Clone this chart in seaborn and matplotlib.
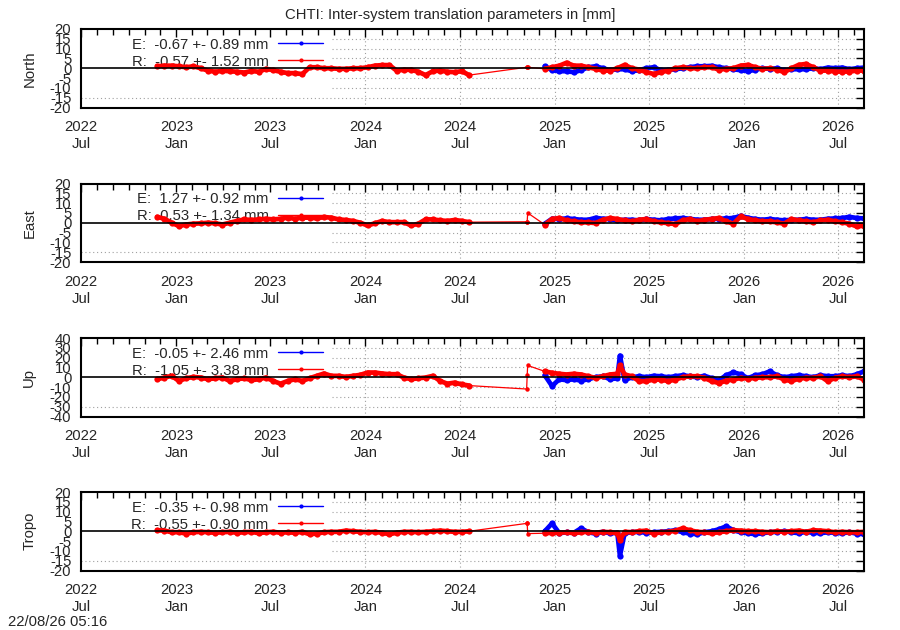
import numpy as np
import pandas as pd
import matplotlib
matplotlib.use("Agg")
import matplotlib.pyplot as plt
import matplotlib.dates as mdates
from matplotlib.lines import Line2D
import seaborn as sns

# ---------------- data ----------------
part1_dates = pd.date_range("2022-11-25", periods=44, freq="14D")
part2_dates = pd.date_range("2024-12-12", periods=45, freq="14D")
lone_dates = pd.to_datetime(["2024-11-07", "2024-11-08", "2024-11-09"])
spike_date = pd.to_datetime(["2025-05-06"])

panel_names = ["North", "East", "Up", "Tropo"]
panel_limits = [20, 20, 40, 20]
panel_steps = [5, 5, 10, 5]

legend_E = ["E:  -0.67 +- 0.89 mm", "E:  1.27 +- 0.92 mm",
            "E:  -0.05 +- 2.46 mm", "E:  -0.35 +- 0.98 mm"]
legend_R = ["R:  -0.57 +- 1.52 mm", "R:  0.53 +- 1.34 mm",
            "R:  -1.05 +- 3.38 mm", "R:  -0.55 +- 0.90 mm"]

north_R1 = [1.0, 1.3, 1.3, 1.0, 0.5, 1.0, 0.0, -1.2, -1.8, -1.3, -1.5, -1.8,
            -2.2, -1.4, -1.8, -0.3, -1.0, -1.8, -2.5, -2.5, -3.0, 0.5, 0.5, 0.0,
            0.0, -0.3, -0.3, 0.0, 0.0, 0.5, 1.3, 1.6, 1.6, -1.2, -0.8, -0.8,
            -1.8, -3.5, -1.5, -1.2, -1.8, -2.0, -1.5, -3.5]
north_R2 = [-0.3, 0.5, 1.3, 2.8, 1.3, 1.3, 0.5, -0.3, -1.2, -1.2, 0.0, 1.7,
            0.0, -0.7, -2.0, -2.9, -2.0, -1.2, 0.0, 0.5, 0.0, 0.0, 0.5, 0.5,
            -0.7, -0.3, 0.0, 1.3, 1.7, 0.5, -0.3, 0.0, -0.7, -2.0, 0.0, 1.7,
            2.2, 0.5, -1.2, -1.2, -1.7, -1.7, -1.7, -1.2, -1.2]
north_E2 = [1.0, -1.0, -1.5, -1.5, -2.0, -1.0, 0.5, 1.0, 0.0, -1.0, -0.5, -0.5,
            -1.5, -1.0, 0.0, 0.5, -1.0, -0.8, -0.5, 0.0, 0.5, 1.0, 1.0, 1.2,
            0.5, 0.0, -0.5, -1.0, -1.5, -0.8, 0.0, -0.3, 0.0, -1.0, -0.5, -0.5,
            -0.5, 0.0, -0.5, 0.3, 0.0, 0.3, -0.5, 0.0, 0.3]
north_lone = [0.5, 0.5, 0.5]

east_R1 = [3.0, 2.0, 0.0, -1.7, -0.9, -0.5, -0.3, 0.0, -0.3, -0.9, 0.0, 0.9,
           1.7, 1.4, 1.7, 2.0, 1.7, 2.0, 2.6, 2.0, 2.6, 2.6, 2.2, 2.9,
           2.6, 1.7, 1.4, 0.9, 0.0, -1.4, -0.3, 0.9, 0.3, 0.3, 0.3, -1.4,
           -0.5, 1.7, 1.7, 1.2, 0.9, 1.4, 0.9, 0.3]
east_R2 = [-1.0, 1.9, 2.4, 1.2, 0.7, 0.2, 0.2, -0.2, 1.5, 2.4, 1.9, 1.2,
           0.7, 1.5, 1.9, 0.7, 0.2, -0.2, -0.7, 1.2, 1.9, 0.7, 1.5, 1.9,
           2.4, 0.7, -0.5, 3.2, 1.9, 1.2, 0.7, 0.7, 0.2, -0.5, 1.9, 1.2,
           0.7, 0.2, 1.2, 1.5, 0.7, 0.2, -0.5, -1.9, -1.5]
east_E2 = [-0.5, 2.0, 1.9, 2.2, 1.9, 1.5, 1.5, 2.5, 2.0, 1.9, 1.2, 1.5,
           1.5, 1.2, 1.9, 1.5, 1.2, 1.9, 2.2, 2.4, 2.0, 1.5, 1.5, 1.9,
           2.0, 2.2, 2.4, 3.5, 2.5, 1.9, 1.5, 1.9, 1.5, 1.2, 1.5, 1.5,
           1.9, 1.5, 1.5, 2.0, 2.2, 2.4, 3.0, 2.4, 2.2]
east_lone = [0.5, 0.5, 5.0]

up_R1 = [-2.0, -0.3, 1.4, -3.8, -1.0, 0.3, -0.3, -2.0, -1.0, -0.3, -3.8, -2.0,
         -1.0, -3.0, -2.0, -0.3, -3.8, -6.6, -3.8, -2.0, -3.8, -1.0, 1.4, 3.8,
         1.4, 1.4, 0.3, 1.4, 2.4, 4.8, 4.8, 3.8, 3.1, 3.1, -0.3, -2.0,
         -1.0, -0.3, 1.4, -3.8, -6.6, -5.5, -7.3, -8.5]
up_R2 = [6.0, 4.5, 3.5, 2.8, 3.5, 2.8, 1.0, -0.7, 1.0, 2.8, 3.5, 2.8,
         1.0, -4.0, -4.0, -2.4, -2.4, -4.0, -2.4, 0.0, 1.0, 1.0, -0.7, -4.0,
         -5.9, -3.5, -2.4, -0.7, -1.4, -0.7, 0.0, 0.0, 1.0, -2.4, -4.0, -1.4,
         -0.7, -0.7, 1.0, -4.0, -0.7, 1.0, 0.0, 1.0, -2.4]
up_E2 = [2.0, -9.0, -2.0, -3.0, -2.0, -3.5, -2.0, 0.0, 1.0, -2.0, -1.0, -3.0,
         0.0, 1.0, 0.0, 1.4, 1.0, 0.0, 1.0, 2.0, 1.0, 0.0, 1.5, -1.0,
         -3.0, 2.0, 5.0, 3.0, -1.0, 2.0, 3.0, 6.0, 2.0, 0.0, 1.0, 2.0,
         1.0, 0.0, 2.0, 1.0, 1.0, 2.0, 1.0, 3.0, 6.0]
up_lone = [-12.0, 2.0, 12.0]
up_spike_R = [12.0]
up_spike_E = [22.0]

tropo_R1 = [0.5, 0.3, -0.5, -0.5, -1.2, -0.5, -0.3, -0.5, -0.8, -0.5, -0.3, -0.8,
            -0.5, -0.3, -1.0, -0.5, -0.3, -0.8, -0.5, -0.8, -0.3, -1.5, -1.2, -0.5,
            -0.3, -0.3, 0.3, 0.0, -0.3, -0.5, -0.3, -0.8, -1.5, -0.8, -0.3, -0.3,
            -0.5, -0.3, 0.0, 0.3, 0.0, -0.3, -0.3, 0.0]
tropo_R2 = [-1.0, -0.8, -0.8, -0.5, -1.0, -0.5, -0.3, -0.8, -0.3, -0.5, -1.0, -0.3,
            -0.5, 0.0, 0.3, -1.2, -0.5, -0.3, 0.3, 1.5, 0.5, -0.3, -0.5, -1.0,
            -0.5, 0.0, 0.5, 0.3, 0.0, 0.0, -0.3, -0.5, 0.0, -0.3, 0.0, 0.3,
            -0.3, 0.5, 0.3, 0.0, -0.5, -0.3, -0.5, -0.5, -0.3]
tropo_E2 = [0.0, 4.0, -1.0, -0.5, -0.8, 1.5, -0.5, -1.2, -0.3, -1.0, -0.8, -1.0,
            -0.5, -0.3, -0.8, -0.5, -0.3, 0.0, 0.5, -0.5, -1.2, -1.5, -0.5, 0.0,
            1.0, 2.5, 0.5, -0.5, -1.0, -1.5, -1.0, -0.5, -0.3, 0.0, -0.5, -1.0,
            -0.3, -0.8, -1.0, -0.5, -0.8, -1.0, -0.5, -1.2, -1.5]
tropo_lone = [4.0, 4.0, -1.2]
tropo_spike_R = [-4.5]
tropo_spike_E = [-12.5]

R1 = [north_R1, east_R1, up_R1, tropo_R1]
R2 = [north_R2, east_R2, up_R2, tropo_R2]
E2 = [north_E2, east_E2, up_E2, tropo_E2]
LONE = [north_lone, east_lone, up_lone, tropo_lone]
SPIKE_R = [None, None, up_spike_R, tropo_spike_R]
SPIKE_E = [None, None, up_spike_E, tropo_spike_E]

title = "CHTI: Inter-system translation parameters in [mm]"
stamp = "22/08/26 05:16"

# ---------------- style ----------------
sns.set_style("white")
plt.rcParams["font.family"] = ["Liberation Sans", "DejaVu Sans"]
plt.rcParams["font.size"] = 10.7

BLUE = "#0000ff"
RED = "#ff0000"
GRID = "#a0a0a0"
FS = 10.7

xmin = pd.Timestamp("2022-07-01")
xmax = pd.Timestamp("2026-08-20")
key_edge = pd.Timestamp("2023-10-28")

fig = plt.figure(figsize=(9, 6.3), dpi=100)
tops = [29, 183.5, 338, 492]
H = 78.5


def frame(dates, values):
    return pd.DataFrame({"date": pd.to_datetime(dates), "val": values})


for i, name in enumerate(panel_names):
    top = tops[i]
    ax = fig.add_axes([81 / 900, 1 - (top + H) / 630, 783 / 900, H / 630])
    lim = panel_limits[i]
    step = panel_steps[i]

    # grid (hidden behind the key area on the left)
    yt = np.arange(-lim, lim + step, step)
    for v in yt:
        if v in (-lim, lim, 0):
            continue
        start = xmin if v == -lim + step else key_edge
        ax.hlines(v, start, xmax, colors=GRID, linestyles=(0, (1, 2.5)), lw=0.8, zorder=0.5)
    for d in pd.date_range("2024-01-01", xmax, freq="6MS"):
        ax.axvline(d, color=GRID, ls=(0, (1, 2.5)), lw=0.8, zorder=0.5)

    # E series (blue)
    dfE = frame(part2_dates, E2[i])
    if SPIKE_E[i] is not None:
        dfE = pd.concat([dfE, frame(spike_date, SPIKE_E[i])]).sort_values("date")
    sns.lineplot(data=dfE, x="date", y="val", ax=ax, color=BLUE, lw=3.4,
                 marker="o", markersize=4.5, markeredgewidth=0, estimator=None,
                 legend=False, zorder=2)

    # R series (red): two dense stretches, joined by a thin line through lone points
    dfR1 = frame(part1_dates, R1[i])
    dfR2 = frame(part2_dates, R2[i])
    if SPIKE_R[i] is not None:
        dfR2 = pd.concat([dfR2, frame(spike_date, SPIKE_R[i])]).sort_values("date")
    dfL = frame(lone_dates, LONE[i])
    dfC = pd.concat([dfR1.tail(1), dfL, dfR2.head(1)])
    sns.lineplot(data=dfC, x="date", y="val", ax=ax, color=RED, lw=0.9,
                 marker="o", markersize=3.2, markeredgewidth=0, estimator=None,
                 legend=False, zorder=3)
    for dfp in (dfR1, dfR2):
        sns.lineplot(data=dfp, x="date", y="val", ax=ax, color=RED, lw=3.4,
                     marker="o", markersize=4.5, markeredgewidth=0, estimator=None,
                     legend=False, zorder=3)

    ax.axhline(0, color="black", lw=1.2, zorder=4)

    ax.set_xlim(xmin, xmax)
    ax.set_ylim(-lim, lim)
    ax.set_yticks(yt)
    ax.set_yticklabels([str(int(v)) for v in yt])
    ax.xaxis.set_major_locator(mdates.MonthLocator(bymonth=[1, 7]))
    ax.xaxis.set_minor_locator(mdates.MonthLocator())
    ax.xaxis.set_major_formatter(mdates.DateFormatter("%Y\n%b"))
    ax.tick_params(which="both", direction="in", top=True, right=True,
                   color="black", width=1.0, labelsize=FS)
    ax.tick_params(which="major", length=6)
    ax.tick_params(axis="x", which="major", pad=9)
    ax.tick_params(axis="y", which="major", pad=7)
    ax.tick_params(which="minor", length=4)
    for lab in ax.get_xticklabels():
        lab.set_linespacing(1.3)
    for s in ax.spines.values():
        s.set_linewidth(1.5)
        s.set_color("black")
        s.set_zorder(6)
    ax.set_xlabel("")
    ax.set_ylabel(name, fontsize=FS)
    ax.yaxis.set_label_coords(-0.057, 0.5)

    handles = [Line2D([], [], color=BLUE, lw=1, marker="o", markersize=3, markeredgewidth=0),
               Line2D([], [], color=RED, lw=1, marker="o", markersize=3, markeredgewidth=0)]
    leg = ax.legend(handles, [legend_E[i], legend_R[i]], loc="upper right",
                    bbox_to_anchor=(0.309, 0.89), frameon=False, markerfirst=False,
                    handlelength=3.0, handletextpad=0.65, labelspacing=0.2,
                    borderpad=0, borderaxespad=0, fontsize=FS)
    leg.set_zorder(1)

fig.text(0.5, 1 - 15 / 630, title, ha="center", va="center", fontsize=FS)
fig.text(8 / 900, 1 - 622 / 630, stamp, ha="left", va="center", fontsize=FS)

fig.savefig("out.png", dpi=100)
